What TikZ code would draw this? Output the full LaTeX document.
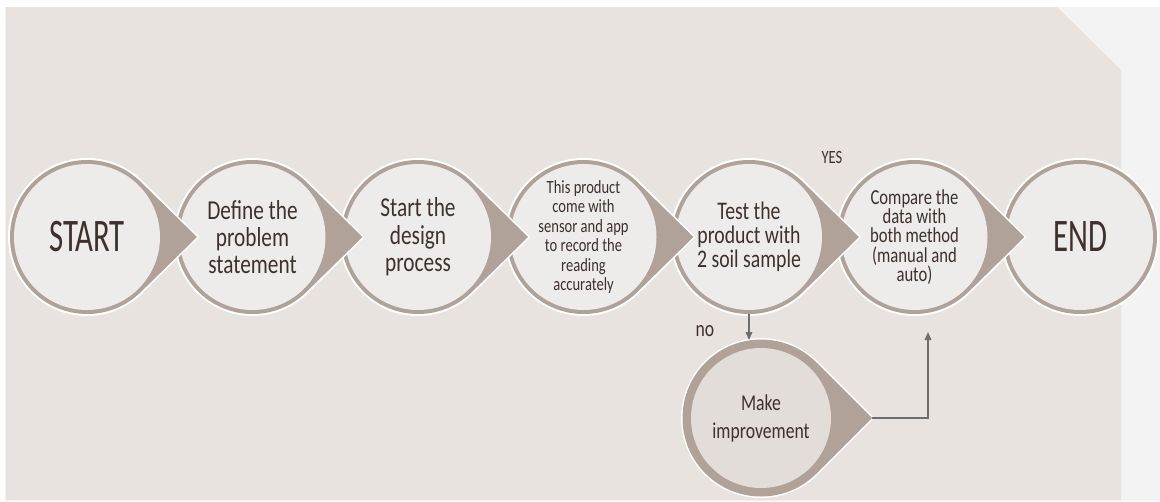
\documentclass[tikz,border=0pt]{standalone}
\usepackage{fontspec}
\setmainfont{Carlito}[FakeStretch=0.78]
\newfontfamily\capsfont{Carlito}[FakeStretch=0.66]
\usetikzlibrary{calc,arrows.meta}

\definecolor{panel}{HTML}{E8E3DF}
\definecolor{frame}{HTML}{F3F3F3}
\definecolor{ring}{HTML}{B0A199}
\definecolor{inner}{HTML}{EEECEA}
\definecolor{innerdark}{HTML}{E3DDDA}
\definecolor{ink}{HTML}{3E312C}
\definecolor{wire}{HTML}{6E6E6E}

% teardrop: centre x, centre y, radius, tip distance, colour
\newcommand\teardrop[5]{%
  \pgfmathsetmacro\tdang{acos(#3/#4)}%
  \fill[#5] (#1+#4,#2) -- ($(#1,#2)+(\tdang:#3)$)
    arc[start angle=\tdang, end angle=360-\tdang, radius=#3] -- cycle;}

% ringed stage with a pointed tail to the right
\newcommand\tailed[2]{%
  \teardrop{#1}{#2}{79}{112}{white}%
  \teardrop{#1}{#2}{77}{110}{ring}}

\tikzset{
  stage/.style={circle, fill=inner, minimum size=109.5pt, inner sep=0pt,
    outer sep=3pt, align=center, text=ink},
  bigtxt/.style={font=\capsfont\fontsize{35}{35}\selectfont},
  midtxt/.style={font=\fontsize{20.5}{20.5}\selectfont},
  smalltxt/.style={font=\fontsize{14}{14.6}\selectfont},
  cmptxt/.style={font=\fontsize{16}{14.6}\selectfont},
  lbl/.style={text=ink, font=\fontsize{14}{14}\selectfont, inner sep=0pt},
  conn/.style={draw=wire, line width=1pt, -{Triangle[length=6pt,width=5pt]}},
}

\begin{document}
\begin{tikzpicture}[x=0.75pt,y=-0.75pt]
\useasboundingbox (0,0) rectangle (1160,501);
\fill[white] (0,0) rectangle (1160,501);
% backdrop with the clipped corner
\fill[frame] (5,7) rectangle (1160,501);
\fill[panel] (6,7) -- (1057,7) -- (1121,70) -- (1121,500) -- (6,500) -- cycle;

% main row, drawn right to left so each tail lies over the next stage
\fill[white] (1080,237) circle[radius=79];
\fill[ring] (1080,237) circle[radius=77];
\node[stage, bigtxt] (end) at (1080,237) {END};

\tailed{914.5}{237}
\node[stage, cmptxt] (compare) at (914.5,237) {Compare the\\data with\\both method\\(manual and\\auto)};

\tailed{749}{237}
\node[stage, font=\fontsize{19}{18}\selectfont] (test) at (749,237) {Test the\\product with\\2 soil sample};

\tailed{583.5}{237}
\node[stage, smalltxt] (product) at (583.5,237) {This product\\come with\\sensor and app\\to record the\\reading\\accurately};

\tailed{418}{237}
\node[stage, midtxt] (design) at (418,237) {Start the\\design\\process};

\tailed{252.5}{237}
\node[stage, midtxt] (define) at (252.5,237) {Define the\\problem\\statement};

\tailed{87}{237}
\node[stage, bigtxt] (start) at (87,237) {START};

% improvement branch
\teardrop{761}{418}{80}{113}{white}
\teardrop{761}{418}{78.5}{111}{ring}
\node[stage, fill=innerdark, minimum size=105pt, outer sep=6pt,
  font=\fontsize{17}{21}\selectfont] (make) at (761,418) {Make\\improvement};

\coordinate (maketip) at (872,418);
\coordinate (back) at (928,332);

\draw[conn] (test.south) -- (test.south |- make.north);
\draw[conn] (maketip) -| (back);

\node[lbl] (yes) at (832,157) {YES};
\node[lbl, font=\fontsize{17}{17}\selectfont] (no) at (705,331) {no};
\end{tikzpicture}
\end{document}
